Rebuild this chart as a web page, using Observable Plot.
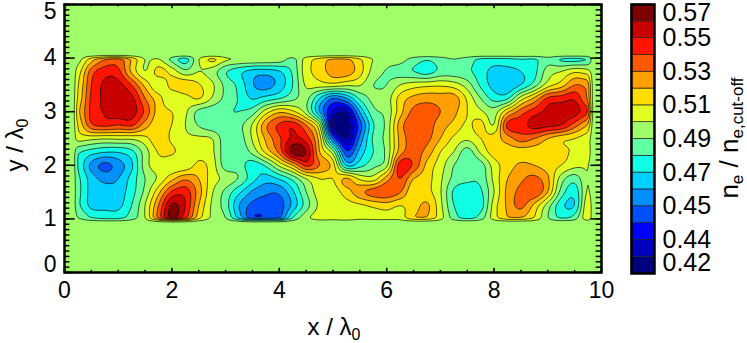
<!DOCTYPE html>
<html><head><meta charset="utf-8">
<script src="https://cdn.jsdelivr.net/npm/d3@7"></script>
<script src="https://cdn.jsdelivr.net/npm/@observablehq/plot@0.6"></script>
<style>html,body{margin:0;padding:0;background:#fff}#c{position:relative;width:747px;height:343px}#c svg{position:absolute;left:0;top:0;background:none}</style>
</head><body><div id="c"></div>
<script>
// electron density, in thousandths of the cut-off density
const background = 505;
const y400 = [505,525,540,545,530,510,510,495,483,510,525,514,512,512,511,508,497,515,525,533,533,522,510,505,505,496,491,495,500,495,487,486,487,489,488,495,486,483,487];
const y375 = [515,545,556,553,528,510,524,516,503,510,505,491,483,476,475,479,492,516,524,535,536,524,506,499,495,490,485,493,494,492,485,476,476,480,487,505,510,518,515];
const y350 = [520,550,562,564,550,527,512,524,527,521,512,497,487,471,466,474,490,512,515,516,512,511,500,500,510,515,517,518,515,505,488,476,472,480,495,515,525,540,537];
const y325 = [523,552,562,566,563,540,524,512,516,521,509,497,489,479,484,489,497,503,480,460,470,492,503,505,524,533,536,535,535,518,500,486,488,515,532,552,555,558,540];
const y300 = [528,553,561,566,565,548,525,520,512,497,493,491,490,495,515,528,522,505,470,438,432,471,497,503,526,543,545,540,533,520,512,505,528,545,555,563,565,565,552];
const y275 = [522,548,553,550,552,535,522,520,510,499,493,492,497,511,538,552,557,540,510,426,424,455,489,503,535,548,545,535,527,518,524,510,553,555,565,563,560,545,530];
const y250 = [515,513,511,512,512,517,527,518,512,512,510,494,495,511,532,548,562,555,525,458,430,463,492,504,533,545,543,530,518,512,520,525,535,545,540,530,523,520,515];
const y225 = [491,485,481,481,487,505,521,522,513,515,512,494,493,503,523,543,575,570,530,505,452,474,490,503,535,545,536,520,510,495,512,525,525,525,525,525,523,518,515];
const y200 = [488,467,457,465,478,505,516,512,512,523,515,495,495,484,492,512,530,553,540,525,478,486,497,507,556,548,527,515,500,492,495,515,525,532,530,525,520,513,511];
const y175 = [492,475,467,470,484,500,512,527,538,530,515,507,499,484,475,481,493,510,520,520,532,518,515,535,550,530,524,512,497,492,493,513,530,538,543,532,505,494,511];
const y150 = [493,476,475,475,486,503,527,552,556,535,511,497,482,468,462,462,478,500,515,515,525,537,545,548,541,521,523,511,488,484,488,510,533,543,549,530,496,484,513];
const y125 = [492,477,477,477,490,510,540,572,560,530,508,495,470,457,455,455,473,495,512,515,516,518,522,525,520,525,532,513,490,483,485,515,532,543,527,505,483,480,520];
const y100 = [500,490,486,486,495,510,545,575,555,525,508,500,475,450,450,456,490,508,516,515,517,513,514,514,515,530,530,515,495,485,495,516,530,530,520,500,488,495,520];
const rows = [y400,y375,y350,y325,y300,y275,y250,y225,y200,y175,y150,y125,y100];

const bandColors = ["#00007f","#0000bf","#0000ff","#0050ff","#0090ff","#00d0ff","#10ffe4","#60ffa4","#a0ff68","#e0ff20","#ffdc00","#ffa000","#ff5800","#ff1400","#c80000","#7f0000"];
const thresholds = d3.range(16).map(i => 420 + i * 10);
const barLabels = ["0.42","0.44","0.45","0.47","0.49","0.51","0.53","0.55","0.57"];
const barLabelAt = [0.6,2,4,6,8,10,12,14,15.5];
const xTicks = [0,2,4,6,8,10];
const yTickLabels = ["0","1","2","3","4","5"];
const yTickAt = [0.15,1,2,3,4,4.86];

const clamp01 = t => Math.max(0, Math.min(1, t));
const cr = (a, b, c, d, t) => 0.5 * (2 * b + (c - a) * t + (2 * a - 5 * b + 4 * c - d) * t * t + (3 * b - a - 3 * c + d) * t * t * t);
function reading(x, y) {
  const u = Math.max(0, Math.min(38, (x - 0.25) / 0.25)), v = Math.max(0, Math.min(12, (4 - y) / 0.25));
  const i = Math.min(37, Math.floor(u)), j = Math.min(11, Math.floor(v));
  const row = k => { const r = rows[Math.max(0, Math.min(12, k))], at = m => r[Math.max(0, Math.min(38, m))];
    return cr(at(i - 1), at(i), at(i + 1), at(i + 2), u - i); };
  return cr(row(j - 1), row(j), row(j + 1), row(j + 2), v - j);
}
function density(x, y) {
  const mask = clamp01((x - 0.17) / 0.08) * clamp01((9.83 - x) / 0.08) * clamp01((y - 0.97) / 0.03) * clamp01((4.03 - y) / 0.03);
  return Math.max(421, background + (reading(x, y) - background) * mask);
}

const font = "'Liberation Sans', Arial, sans-serif";
const main = Plot.plot({
  width: 747, height: 343,
  marginLeft: 64, marginRight: 146, marginTop: 4, marginBottom: 71,
  style: {fontFamily: font, background: "none", color: "#000"},
  x: {domain: [0, 10], axis: null},
  y: {domain: [0, 5], axis: null},
  color: {type: "threshold", domain: thresholds.slice(1), range: bandColors},
  marks: [
    Plot.contour({x1: 0, y1: 0, x2: 10, y2: 5, value: density, thresholds, fill: "value", stroke: "#111", strokeWidth: 0.7, blur: 1, pixelSize: 1}),
    Plot.ruleX(xTicks, {y1: 0, y2: 0.08, stroke: "#000", strokeWidth: 1.5}),
    Plot.ruleX(xTicks, {y1: 5, y2: 4.92, stroke: "#000", strokeWidth: 1.5}),
    Plot.ruleX(d3.range(0, 10.01, 0.5), {y1: 0, y2: 0.04, stroke: "#000", strokeWidth: 1.5}),
    Plot.ruleX(d3.range(0, 10.01, 0.5), {y1: 5, y2: 4.96, stroke: "#000", strokeWidth: 1.5}),
    Plot.ruleY(d3.range(0, 5.01, 1), {x1: 0, x2: 0.2, stroke: "#000", strokeWidth: 1.5}),
    Plot.ruleY(d3.range(0, 5.01, 1), {x1: 10, x2: 9.8, stroke: "#000", strokeWidth: 1.5}),
    Plot.ruleY(d3.range(0, 5.01, 0.1), {x1: 0, x2: 0.1, stroke: "#000", strokeWidth: 1.5}),
    Plot.ruleY(d3.range(0, 5.01, 0.1), {x1: 10, x2: 9.9, stroke: "#000", strokeWidth: 1.5}),
    Plot.frame({stroke: "#000", strokeWidth: 2.5}),
    Plot.axisX(xTicks, {tickSize: 0, tickPadding: 9, fontSize: 23, tickFormat: d => String(d), label: null}),
    Plot.axisY(yTickAt, {tickSize: 0, tickPadding: 8, fontSize: 23, tickFormat: d => yTickLabels[yTickAt.indexOf(d)], label: null})
  ]
});
const bands = thresholds.map((t, i) => ({lo: i, hi: i + 1, c: bandColors[i]}));
const bar = Plot.plot({
  width: 747, height: 343,
  marginLeft: 631, marginRight: 93, marginTop: 4, marginBottom: 70,
  style: {fontFamily: font, background: "none", color: "#000"},
  x: {domain: [0, 1], axis: null},
  y: {domain: [0, 16], axis: null},
  marks: [
    Plot.rect(bands, {x1: 0, x2: 1, y1: "lo", y2: "hi", fill: "c", stroke: "#222", strokeWidth: 0.7}),
    Plot.frame({stroke: "#000", strokeWidth: 2.5}),
    Plot.axisY(barLabelAt, {anchor: "right", tickSize: 0, tickPadding: 8, fontSize: 25, tickFormat: d => barLabels[barLabelAt.indexOf(d)], label: null})
  ]
});
const root = document.getElementById("c");
root.append(main, bar);
function label(svg, x, y, rot, size, subSize, drop, parts) {
  const t = d3.select(svg).append("text").attr("transform", `translate(${x},${y}) rotate(${rot})`)
    .attr("text-anchor", "middle").style("font-family", font).attr("fill", "#000");
  let low = false;
  for (const [s, sub] of parts) {
    const ts = t.append("tspan").text(s).style("font-size", (sub ? subSize : size) + "px");
    if (sub && !low) { ts.attr("dy", drop); low = true; }
    else if (!sub && low) { ts.attr("dy", -drop); low = false; }
  }
}
label(main, 334, 335, 0, 24, 16, 5, [["x / λ", 0], ["0", 1]]);
label(main, 23, 145, -90, 24, 16, 5, [["y / λ", 0], ["0", 1]]);
label(bar, 738, 138, -90, 26, 17, 5, [["n", 0], ["e", 1], [" / n", 0], ["e,cut-off", 1]]);
</script></body></html>
